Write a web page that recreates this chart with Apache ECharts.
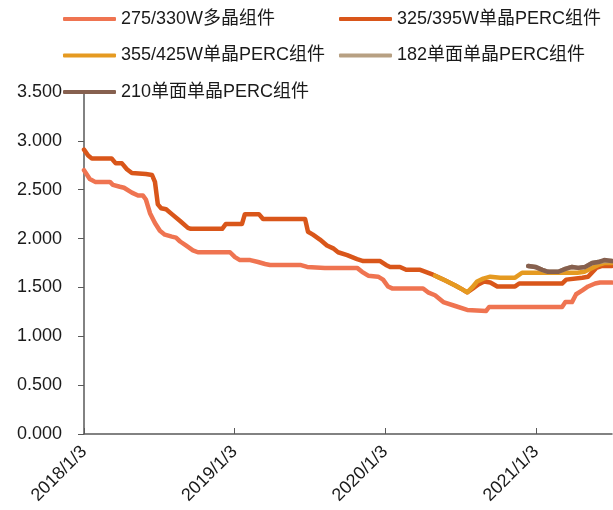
<!DOCTYPE html>
<html>
<head>
<meta charset="utf-8">
<title>组件价格走势</title>
<script src="https://cdn.jsdelivr.net/npm/echarts@6/dist/echarts.min.js"></script>
<style>
  html, body { margin: 0; padding: 0; background: #ffffff; }
  #chart { width: 613px; height: 510px; }
</style>
</head>
<body>
<div id="chart"></div>
<script>
// Series names
const seriesNames = [
  '275/330W多晶组件',
  '325/395W单晶PERC组件',
  '355/425W单晶PERC组件',
  '182单面单晶PERC组件',
  '210单面单晶PERC组件'
];

// 275/330W 多晶组件 (元/W)
const dates275 = ['2018-01-03','2018-01-17','2018-01-30','2018-03-07','2018-03-14','2018-03-31','2018-04-10','2018-04-29','2018-05-14','2018-05-26','2018-06-02','2018-06-12','2018-06-24','2018-07-06','2018-07-18','2018-08-04','2018-08-14','2018-08-24','2018-09-07','2018-09-24','2018-10-06','2018-12-23','2019-01-04','2019-01-16','2019-02-10','2019-03-01','2019-03-18','2019-03-30','2019-06-11','2019-06-28','2019-08-10','2019-10-27','2019-11-08','2019-11-23','2019-12-17','2019-12-29','2020-01-10','2020-01-20','2020-04-04','2020-04-16','2020-05-03','2020-05-23','2020-06-21','2020-07-20','2020-09-04','2020-09-11','2021-03-07','2021-03-15','2021-03-31','2021-04-10','2021-04-25','2021-05-09','2021-05-26','2021-06-07','2021-07-06'];
const prices275 = [2.70,2.61,2.58,2.58,2.55,2.53,2.52,2.47,2.44,2.44,2.40,2.26,2.16,2.08,2.04,2.02,2.01,1.97,1.93,1.88,1.86,1.86,1.81,1.78,1.78,1.76,1.74,1.73,1.73,1.71,1.70,1.70,1.66,1.62,1.61,1.58,1.51,1.49,1.49,1.45,1.42,1.35,1.31,1.27,1.26,1.30,1.30,1.35,1.35,1.43,1.47,1.51,1.54,1.55,1.55];

// 325/395W 单晶PERC组件
const dates325 = ['2018-01-03','2018-01-13','2018-01-22','2018-03-11','2018-03-21','2018-04-05','2018-04-17','2018-04-29','2018-06-02','2018-06-17','2018-06-24','2018-07-01','2018-07-09','2018-07-21','2018-08-04','2018-08-24','2018-09-12','2018-09-19','2018-12-04','2018-12-13','2019-01-21','2019-01-28','2019-03-03','2019-03-13','2019-06-23','2019-06-30','2019-07-12','2019-07-29','2019-08-15','2019-08-30','2019-09-11','2019-10-03','2019-10-27','2019-11-11','2019-12-22','2020-01-05','2020-01-15','2020-02-08','2020-02-23','2020-03-28','2020-04-28','2020-05-28','2020-06-21','2020-07-08','2020-07-20','2020-08-03','2020-08-16','2020-08-30','2020-09-14','2020-10-01','2020-11-13','2020-11-23','2021-03-07','2021-03-17','2021-04-25','2021-05-09','2021-05-29','2021-06-12','2021-07-06'];
const prices325 = [2.91,2.85,2.82,2.82,2.77,2.77,2.71,2.67,2.66,2.65,2.58,2.35,2.31,2.30,2.25,2.18,2.11,2.10,2.10,2.15,2.15,2.25,2.25,2.20,2.20,2.07,2.04,1.99,1.93,1.90,1.86,1.83,1.79,1.77,1.77,1.73,1.71,1.71,1.68,1.68,1.63,1.57,1.52,1.48,1.45,1.49,1.53,1.56,1.55,1.51,1.51,1.54,1.54,1.58,1.60,1.61,1.70,1.72,1.72];

// 355/425W 单晶PERC组件
const dates355 = ['2020-05-03','2020-05-28','2020-06-21','2020-07-08','2020-07-20','2020-08-01','2020-08-13','2020-08-28','2020-09-14','2020-10-08','2020-11-13','2020-11-30','2021-04-13','2021-04-30','2021-05-19','2021-06-03','2021-06-17','2021-07-06'];
const prices355 = [1.62,1.57,1.52,1.48,1.45,1.50,1.56,1.59,1.61,1.60,1.60,1.65,1.65,1.66,1.70,1.73,1.75,1.75];

// 182 单面单晶PERC组件
const dates182 = ['2020-12-15','2021-01-01','2021-01-18','2021-02-01','2021-02-26','2021-03-15','2021-03-31','2021-04-15','2021-05-02','2021-05-19','2021-06-03','2021-06-17','2021-07-06'];
const prices182 = [1.72,1.71,1.68,1.66,1.66,1.69,1.71,1.70,1.71,1.75,1.76,1.77,1.77];

// 210 单面单晶PERC组件
const dates210 = ['2020-12-15','2021-01-01','2021-01-18','2021-02-01','2021-02-26','2021-03-15','2021-03-31','2021-04-15','2021-05-02','2021-05-19','2021-06-03','2021-06-17','2021-07-06'];
const prices210 = [1.72,1.71,1.68,1.66,1.66,1.69,1.71,1.70,1.71,1.75,1.76,1.78,1.77];

// Axis settings
const axisStart = '2018-01-03';
const axisEnd = '2021-07-06';
const dateTicks = ['2018-01-03','2019-01-03','2020-01-03','2021-01-03'];
const yTicks = { min: 0, max: 3.5, step: 0.5 };

const colors = ['#EF7451', '#D9561A', '#E59A21', '#B7A082', '#86604F'];

const DAY = 86400000;
function utc(s) {
  const p = s.split('-').map(Number);
  return Date.UTC(p[0], p[1] - 1, p[2]);
}
const origin = utc(axisStart);
// days elapsed since the first trading date
function toDay(s) {
  return Math.round((utc(s) - origin) / DAY);
}
function dayLabel(n) {
  const d = new Date(origin + Math.round(n) * DAY);
  return d.getUTCFullYear() + '/' + (d.getUTCMonth() + 1) + '/' + d.getUTCDate();
}
function zip(ds, vs) {
  return ds.map((d, i) => [toDay(d), vs[i]]);
}

const seriesData = [
  zip(dates275, prices275),
  zip(dates325, prices325),
  zip(dates355, prices355),
  zip(dates182, prices182),
  zip(dates210, prices210)
];

const fontFamily = '"Liberation Sans", Arial, "Noto Sans CJK SC", sans-serif';
const textColor = '#1a1a1a';

const legendText = { fontSize: 18, color: textColor, fontFamily: fontFamily, lineHeight: 18 };
const legendBase = {
  orient: 'vertical',
  top: 5,
  icon: 'roundRect',
  itemWidth: 53, itemHeight: 4, itemGap: 18.5,
  textStyle: legendText,
  selectedMode: false
};

const chart = echarts.init(document.getElementById('chart'), null, { renderer: 'canvas' });

const tickDays = dateTicks.map(toDay);

chart.setOption({
  animation: false,
  backgroundColor: '#ffffff',
  color: colors,
  legend: [
    Object.assign({}, legendBase, {
      data: [seriesNames[0], seriesNames[2], seriesNames[4]],
      left: 58
    }),
    Object.assign({}, legendBase, {
      data: [seriesNames[1], seriesNames[3]],
      left: 334
    })
  ],
  grid: { left: 84, right: 1, top: 92, bottom: 76, containLabel: false },
  xAxis: {
    type: 'value',
    min: 0,
    max: toDay(axisEnd),
    axisLine: { show: true, lineStyle: { color: '#595959', width: 1.5 } },
    axisTick: {
      show: true, inside: true, length: 6,
      customValues: tickDays,
      lineStyle: { color: '#595959', width: 1 }
    },
    axisLabel: {
      customValues: tickDays,
      rotate: 45,
      margin: 15,
      fontSize: 18,
      color: textColor,
      fontFamily: fontFamily,
      hideOverlap: false,
      formatter: function (v) { return dayLabel(v); }
    },
    splitLine: { show: false }
  },
  yAxis: {
    type: 'value',
    min: yTicks.min,
    max: yTicks.max,
    interval: yTicks.step,
    axisLine: { show: true, lineStyle: { color: '#595959', width: 1.5 } },
    axisTick: { show: true, inside: false, length: 6, lineStyle: { color: '#595959', width: 1 } },
    axisLabel: {
      margin: 22,
      fontSize: 18,
      color: textColor,
      fontFamily: fontFamily,
      formatter: function (v) { return v.toFixed(3); }
    },
    splitLine: { show: false }
  },
  series: seriesNames.map((name, i) => ({
    name: name,
    type: 'line',
    data: seriesData[i],
    symbol: 'none',
    smooth: false,
    z: 2 + i,
    lineStyle: { width: 4.5, color: colors[i], cap: 'round', join: 'round' },
    itemStyle: { color: colors[i] }
  }))
});
</script>
</body>
</html>
